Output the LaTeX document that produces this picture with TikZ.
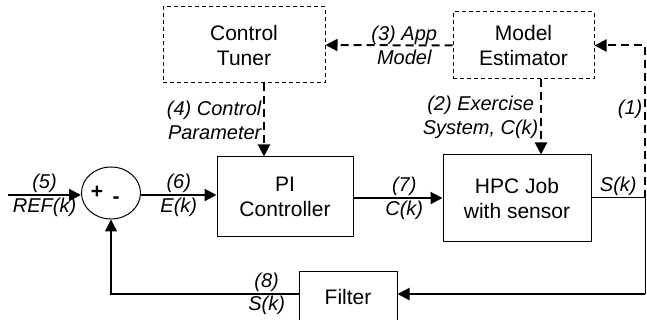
\documentclass[tikz,border=0pt]{standalone}
\usepackage{fontspec}
\setmainfont{Liberation Sans}
\usetikzlibrary{shapes, positioning, arrows.meta}

\tikzset{
    block/.style={draw, line width=0.5pt, align=center, inner sep=0pt},
    dashblock/.style={block, dash pattern=on 2pt off 1.5pt},
    lbl/.style={font=\itshape, align=center, inner sep=0.8pt},
    sig/.style={-{Triangle[length=6pt, width=6pt]}, line width=1pt},
    dsig/.style={sig, dash pattern=on 4pt off 2.5pt},
}

\begin{document}
\begin{tikzpicture}[x=0.5pt, y=-0.5pt, font=\fontsize{10.5}{12.5}\selectfont]
        \useasboundingbox (0, 0) rectangle (647, 320);

        \node[dashblock, minimum width=81pt, minimum height=38pt] (tuner) at (244, 45) {Control\\Tuner};
        \node[dashblock, minimum width=70.5pt, minimum height=33.5pt] (est) at (523.5, 45.5) {Model\\Estimator};
        \node[block, minimum width=68pt, minimum height=39.5pt] (pi) at (285, 196.5) {PI\\Controller};
        \node[block, minimum width=74pt, minimum height=43pt] (job) at (517, 198) {HPC Job\\with sensor};
        \node[block, minimum width=49pt, minimum height=25.5pt] (filter) at (348, 296.5) {Filter};
        \node[draw, ellipse, line width=0.5pt, minimum width=29.5pt, minimum height=26pt, inner sep=0pt] (sum) at (111, 193) {};
        \node (plus) at (97, 192) {\textbf{+}};
        \node (minus) at (116, 200) {\textbf{-}};

        \coordinate (in) at (8, 195);
        \coordinate (out) at (645, 198);
        \coordinate (down) at (645, 294);
        \coordinate (back) at (111, 294);

        % forward path
        \draw[sig] (in) to node[lbl, above] {(5)} node[lbl, below] {REF(k)} (in -| sum.west);
        \draw[sig] (sum.east |- in) to node[lbl, above] {(6)} node[lbl, below] {E(k)} (in -| pi.west);
        \draw[sig] (pi.east |- out) to node[lbl, above, pos=0.57] {(7)} node[lbl, below, pos=0.57] {C(k)} (out -| job.west);
        \draw[line width=0.5pt] (out -| job.east) to node[lbl, above] {S(k)} (out) -- (down);
        \draw[sig] (down) to (down -| filter.east);
        \draw[sig, line width=0.65pt] (filter.west |- down) to node[lbl, above, pos=0.17] {(8)} node[lbl, below, pos=0.17] {S(k)} (back) -- (sum.south);

        % estimation and tuning
        \draw[dsig] (out) to node[lbl, left, pos=0.58] {(1)} (out |- est.east) -- (est.east);
        \draw[dsig] (est.west) to node[lbl, pos=0.38] {(3) App\\Model} (tuner.east);
        \draw[dsig] (tuner.south -| 264, 0) to node[lbl, left, align=right] {(4) Control\\Parameter} (pi.north -| 264, 0);
        \draw[dsig] (est.south -| 541, 0) to node[lbl, left] {(2) Exercise\\System, C(k)} (job.north -| 541, 0);
    \end{tikzpicture}
\end{document}
